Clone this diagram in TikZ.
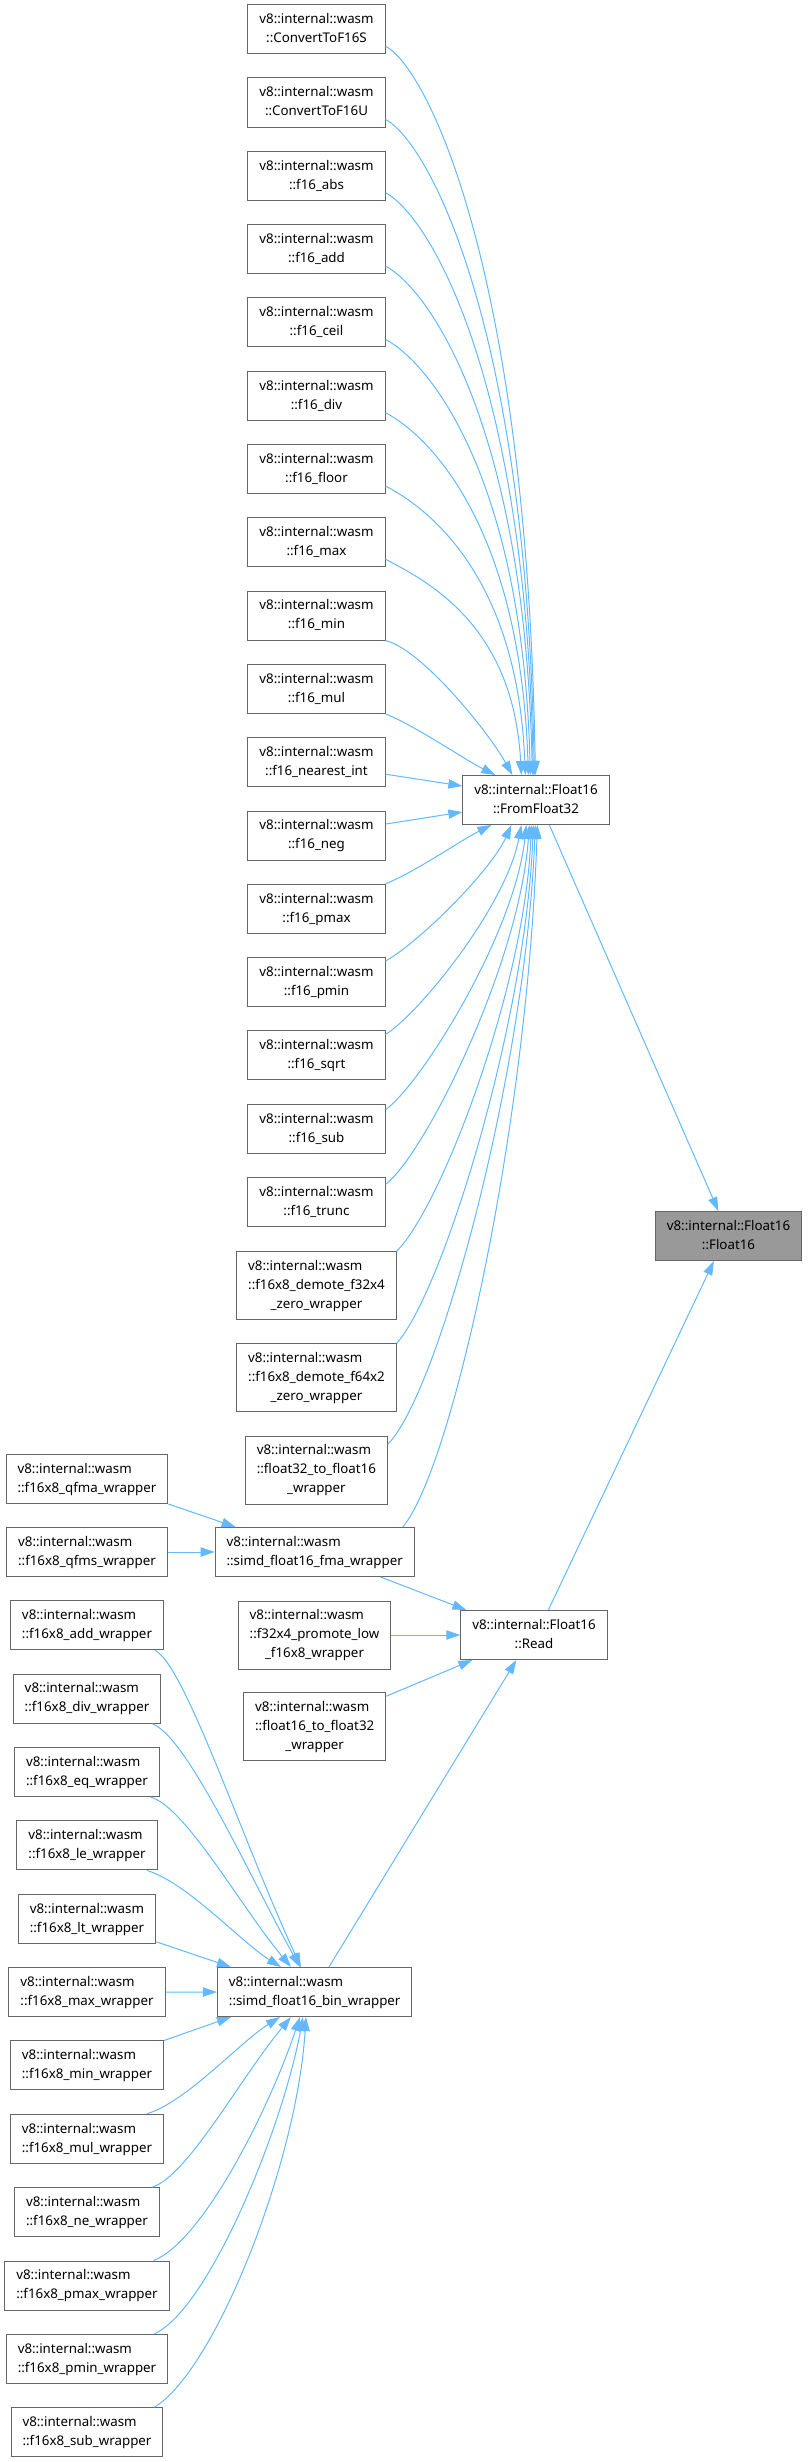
\documentclass[tikz,border=0pt]{standalone}
\usepackage{fontspec}
\setmainfont{Noto Sans}
\usetikzlibrary{arrows.meta, calc}
\definecolor{edgeblue}{HTML}{63B8FF}
\definecolor{boxgray}{HTML}{666666}
\definecolor{selgray}{HTML}{999999}
% all lines but the last one left, last line centred
\newcommand{\lbl}[2]{\begin{tabular}{@{}l@{}}#1\\\multicolumn{1}{@{}c@{}}{#2}\end{tabular}}

\begin{document}
\begin{tikzpicture}[x=0.75pt, y=-0.75pt,
    func/.style={draw=boxgray, line width=0.75pt, rectangle, inner xsep=8.6pt, inner ysep=0pt, minimum height=36.75pt, font=\fontsize{10pt}{14.25pt}\selectfont},
    tall/.style={func, minimum height=51pt},
    call/.style={draw=edgeblue, line width=0.75pt, -{Triangle[length=10.5pt,width=7pt]}}]
    \useasboundingbox (0,0) rectangle (807,2462);

    % callers of FromFloat32
    \foreach \nm/\txt [count=\i from 0] in {fcvts/ConvertToF16S, fcvtu/ConvertToF16U, fabs/f16\_abs, fadd/f16\_add, fceil/f16\_ceil, fdiv/f16\_div, ffloor/f16\_floor, fmax/f16\_max, fmin/f16\_min, fmul/f16\_mul, fnear/f16\_nearest\_int, fneg/f16\_neg, fpmax/f16\_pmax, fpmin/f16\_pmin, fsqrt/f16\_sqrt, fsub/f16\_sub, ftrunc/f16\_trunc}
        \node (\nm) [func] at (316.5, 29.2+73.3*\i) {\lbl{v8::internal::wasm}{::\txt}};
    \node (demfa) [tall] at (316.5,1285.6) {\lbl{v8::internal::wasm\\::f16x8\_demote\_f32x4}{\_zero\_wrapper}};
    \node (demfb) [tall] at (316.5,1377.7) {\lbl{v8::internal::wasm\\::f16x8\_demote\_f64x2}{\_zero\_wrapper}};
    \node (tof16) [tall] at (316.4,1470) {\lbl{v8::internal::wasm\\::float32\_to\_float16}{\_wrapper}};

    % fma / bin wrappers
    \node (qfma) [func] at (87,1479) {\lbl{v8::internal::wasm}{::f16x8\_qfma\_wrapper}};
    \node (qfms) [func] at (87,1552) {\lbl{v8::internal::wasm}{::f16x8\_qfms\_wrapper}};
    \node (fmawrap) [func] at (314.7,1552) {\lbl{v8::internal::wasm}{::simd\_float16\_fma\_wrapper}};
    \foreach \nm/\txt [count=\i from 0] in {wadd/add, wdiv/div, weq/eq, wle/le, wlt/lt, wmax/max, wmin/min, wmul/mul, wne/ne, wpmax/pmax, wpmin/pmin, wsub/sub}
        \node (\nm) [func] at (87, 1625.3+73.36*\i) {\lbl{v8::internal::wasm}{::f16x8\_\txt\_wrapper}};
    \node (binwrap) [func] at (314.7,1992) {\lbl{v8::internal::wasm}{::simd\_float16\_bin\_wrapper}};
    \node (promote) [tall] at (314.5,1635) {\lbl{v8::internal::wasm\\::f32x4\_promote\_low}{\_f16x8\_wrapper}};
    \node (tof32) [tall] at (314.7,1726.7) {\lbl{v8::internal::wasm\\::float16\_to\_float32}{\_wrapper}};

    % Float16
    \node (fromf) [func] at (536,800) {\lbl{v8::internal::Float16}{::FromFloat32}};
    \node (read) [func] at (534,1635) {\lbl{v8::internal::Float16}{::Read}};
    \node (float16) [func, fill=selgray] at (728.5,1236) {\lbl{v8::internal::Float16}{::Float16}};

    % into FromFloat32, top side
    \foreach \nm/\xo/\cy in {fcvts/73/504, fcvtu/72/453, fabs/71/403, fadd/70/352, fceil/68/301, fdiv/66/251, ffloor/63/200, fmax/59/150}
        \draw[call] ([yshift=6pt]\nm.south east) .. controls +(42,22) and +(-8,-\cy) .. ($(fromf.north west)+(\xo,0)$);
    \draw[call] (fmin.south east) .. controls +(35,8) and +(-25,-45) .. ($(fromf.north west)+(50,0)$);
    \draw[call] (fmul.south east) .. controls +(30,12) and +(-30,-15) .. ($(fromf.north west)+(33,0)$);
    \draw[call] ([yshift=-9pt]fnear.east) -- ([yshift=10.5pt]fromf.west);
    \draw[call] ([yshift=8.6pt]fneg.east) -- ([yshift=-9pt]fromf.west);
    % into FromFloat32, bottom side
    \foreach \nm/\ys/\xo/\ax/\ay/\bx/\by in {fpmax/0/29/30/-12/-30/15, fpmin/-3/49/35/-20/-20/45, fsqrt/-3/59/35/-22/-15/80, fsub/-4.5/64/35/-25/-12/110, ftrunc/-5.5/67/38/-28/-10/140, demfa/0/69/45/-45/-6/160, demfb/0/71/45/-50/-8/200, tof16/-6.4/73/50/-50/-10/250}
        \draw[call] ([yshift=\ys pt]\nm.north east) .. controls +(\ax,\ay) and +(\bx,\by) .. ($(fromf.south west)+(\xo,0)$);
    \draw[call] ([xshift=-9pt]fmawrap.north east) .. controls +(50,-60) and +(-10,300) .. ($(fromf.south west)+(75,0)$);

    % into Read and Float16
    \draw[call] ($(fromf.south west)+(87,0)$) -- ($(float16.north west)+(63.5,0)$);
    \draw[call] ($(read.north west)+(88,0)$) -- ($(float16.south west)+(59,0)$);
    \draw[call] ($(fmawrap.south west)+(166,0)$) -- ($(read.north west)+(6,0)$);
    \draw[call] (promote) -- (read);
    \draw[call] ([yshift=-3pt]tof32.north east) -- ($(read.south west)+(12,0)$);
    \draw[call] ($(binwrap.north west)+(112,0)$) -- ($(read.south west)+(56,0)$);
    \draw[call] (qfma.south east) -- ($(fmawrap.north west)+(21,0)$);
    \draw[call] (qfms) -- (fmawrap);

    % into simd_float16_bin_wrapper
    \foreach \nm/\xs/\xo/\ax/\ay/\bx/\by in {wadd/-6.75/84/30/15/-60/-130, wdiv/-7/83/35/12/-50/-90, weq/-7/74/35/10/-50/-60, wle/-8/64/40/12/-40/-25}
        \draw[call] ([xshift=\xs pt]\nm.south east) .. controls +(\ax,\ay) and +(\bx,\by) .. ($(binwrap.north west)+(\xo,0)$);
    \draw[call] ([yshift=1.5pt]wlt.south east) -- ($(binwrap.north west)+(14,0)$);
    \draw[call] (wmax) -- (binwrap);
    \draw[call] (wmin.north east) -- ($(binwrap.south west)+(14,0)$);
    \foreach \nm/\xs/\xo/\ax/\ay/\bx/\by in {wmul/-13/63/40/-12/-40/25, wne/-6/74/35/-10/-50/60, wpmax/-12/83/50/-20/-30/90, wpmin/-10.5/86/55/-25/-20/110, wsub/-7/89/60/-35/-9/147}
        \draw[call] ([xshift=\xs pt]\nm.north east) .. controls +(\ax,\ay) and +(\bx,\by) .. ($(binwrap.south west)+(\xo,0)$);
\end{tikzpicture}
\end{document}
